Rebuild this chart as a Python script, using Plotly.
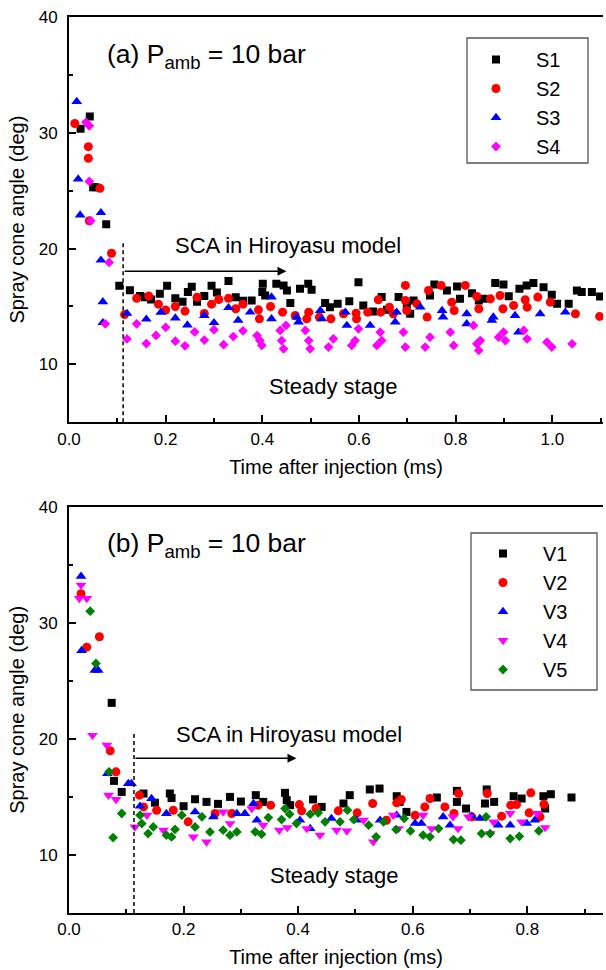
import plotly.graph_objects as go

# ---------------- Panel (a) data ----------------
s1_x = [0.024, 0.043, 0.050, 0.055, 0.077, 0.104, 0.126, 0.147, 0.157, 0.170, 0.188, 0.203, 0.220, 0.235,
        0.246, 0.254, 0.265, 0.280, 0.295, 0.306, 0.330, 0.345, 0.360, 0.378, 0.400, 0.401, 0.406, 0.429,
        0.444, 0.451, 0.458, 0.478, 0.495, 0.502, 0.530, 0.540, 0.556, 0.580, 0.599, 0.609, 0.629, 0.647,
        0.658, 0.682, 0.699, 0.706, 0.713, 0.747, 0.756, 0.782, 0.803, 0.809, 0.834, 0.848, 0.858, 0.882,
        0.899, 0.910, 0.932, 0.947, 0.961, 0.982, 0.999, 1.010, 1.034, 1.051, 1.061, 1.082, 1.099]
s1_y = [30.35, 31.4, 25.3, 25.3, 22.1, 16.8, 16.4, 15.9, 15.8, 15.6, 16.1, 16.8, 15.7, 15.4,
        16.25, 16.7, 15.4, 15.9, 16.8, 16.2, 17.2, 15.8, 15.5, 15.52, 16.24, 16.96, 15.95, 16.96,
        16.82, 16.38, 15.29, 16.53, 16.96, 16.44, 15.29, 14.94, 15.23, 15.46, 17.10, 15.09, 14.57, 15.81,
        14.71, 15.81, 15.09, 14.37, 15.52, 15.95, 16.90, 16.38, 16.73, 15.66, 16.15, 15.52, 15.66, 17.02,
        16.90, 15.89, 16.53, 16.82, 17.02, 16.67, 16.01, 15.23, 15.23, 16.38, 16.24, 16.24, 15.86]

s2_x = [0.012, 0.040, 0.040, 0.042, 0.064, 0.088, 0.115, 0.140, 0.165, 0.185, 0.200, 0.220, 0.240, 0.265,
        0.280, 0.295, 0.310, 0.330, 0.345, 0.360, 0.392, 0.394, 0.417, 0.442, 0.468, 0.492, 0.496, 0.518,
        0.542, 0.568, 0.594, 0.595, 0.618, 0.640, 0.645, 0.663, 0.671, 0.696, 0.696, 0.699, 0.720, 0.741,
        0.744, 0.770, 0.792, 0.797, 0.820, 0.844, 0.848, 0.872, 0.892, 0.898, 0.920, 0.944, 0.948, 0.970,
        0.996, 1.048, 1.098]
s2_y = [30.8, 28.8, 27.8, 22.4, 25.2, 19.6, 14.3, 15.7, 15.9, 15.2, 14.7, 15.0, 14.6, 15.8,
        14.4, 15.2, 15.6, 15.7, 14.8, 15.2, 14.71, 13.93, 15.00, 14.51, 14.22, 13.93, 14.51, 14.08,
        13.93, 14.37, 14.42, 13.93, 14.51, 15.58, 14.51, 14.94, 14.37, 16.82, 15.52, 14.65, 15.23, 14.08,
        16.38, 16.82, 15.37, 14.65, 16.82, 15.86, 14.80, 15.66, 15.95, 14.80, 15.09, 15.58, 14.94, 15.81,
        15.37, 14.37, 14.14]

s3_x = [0.016, 0.019, 0.023, 0.066, 0.066, 0.070, 0.070, 0.120, 0.160, 0.190, 0.220, 0.245, 0.280, 0.300,
        0.330, 0.350, 0.375, 0.419, 0.419, 0.471, 0.475, 0.520, 0.523, 0.572, 0.575, 0.623, 0.675, 0.678,
        0.727, 0.772, 0.774, 0.823, 0.823, 0.875, 0.878, 0.923, 0.930, 0.975, 1.027]
s3_y = [32.7, 26.0, 22.9, 23.1, 19.0, 15.4, 13.6, 14.4, 13.9, 14.5, 14.0, 13.4, 14.2, 13.6,
        14.9, 13.8, 14.51, 15.81, 13.93, 14.08, 13.65, 14.65, 13.93, 14.51, 13.36, 13.36, 13.65, 14.51,
        14.94, 14.65, 14.08, 14.37, 13.50, 13.79, 14.08, 14.22, 12.78, 14.37, 14.51]

s4_x = [0.035, 0.042, 0.042, 0.045, 0.075, 0.083, 0.120, 0.140, 0.160, 0.180, 0.200, 0.220, 0.240, 0.260,
        0.280, 0.300, 0.320, 0.340, 0.360, 0.389, 0.395, 0.399, 0.437, 0.440, 0.444, 0.449, 0.489, 0.496,
        0.499, 0.537, 0.547, 0.585, 0.592, 0.599, 0.637, 0.644, 0.647, 0.692, 0.696, 0.737, 0.747, 0.789,
        0.796, 0.837, 0.844, 0.848, 0.851, 0.889, 0.899, 0.903, 0.941, 0.948, 0.989, 0.999, 1.041]
s4_y = [30.9, 30.6, 25.8, 22.4, 13.5, 18.8, 12.2, 13.5, 11.8, 12.5, 13.2, 12.0, 11.6, 12.8,
        12.1, 13.0, 11.7, 12.4, 12.9, 12.49, 12.06, 11.63, 12.93, 12.06, 11.34, 13.36, 12.93, 12.06,
        11.34, 11.49, 12.21, 11.63, 12.06, 13.07, 11.63, 12.78, 12.06, 12.78, 11.49, 11.49, 12.35, 12.78,
        11.63, 13.36, 11.77, 11.20, 12.06, 12.35, 12.78, 12.06, 12.93, 12.21, 11.92, 11.49, 11.77]

# ---------------- Panel (b) data ----------------
v1_x = [0.0745, 0.0785, 0.092, 0.130, 0.150, 0.176, 0.179, 0.200, 0.220, 0.240, 0.260, 0.281, 0.300,
        0.326, 0.339, 0.377, 0.380, 0.386, 0.426, 0.441, 0.479, 0.490, 0.525, 0.542, 0.572, 0.577, 0.589,
        0.642, 0.677, 0.677, 0.693, 0.729, 0.726, 0.742, 0.776, 0.790, 0.828, 0.841, 0.831, 0.877]
v1_y = [23.1, 16.38, 15.43, 15.29, 14.5, 15.29, 14.9, 14.2, 14.8, 14.57, 14.4, 15.0, 14.6,
        15.15, 14.57, 15.35, 14.72, 14.29, 14.78, 14.14, 14.43, 15.15, 15.64, 15.72, 15.06, 14.57, 13.71,
        14.95, 15.52, 14.57, 14.0, 15.64, 14.43, 14.57, 15.06, 14.86, 15.06, 15.23, 14.0, 14.95]

v2_x = [0.021, 0.031, 0.053, 0.072, 0.082, 0.123, 0.130, 0.153, 0.182, 0.208, 0.255, 0.284,
        0.330, 0.352, 0.402, 0.406, 0.431, 0.470, 0.503, 0.530, 0.554, 0.572, 0.580, 0.604, 0.621,
        0.630, 0.656, 0.672, 0.680, 0.703, 0.730, 0.755, 0.771, 0.781, 0.803, 0.806, 0.829, 0.822]
v2_y = [32.5, 27.9, 28.8, 18.97, 17.16, 15.15, 14.14, 13.85, 13.85, 12.85, 13.57, 13.57,
        14.29, 14.29, 14.34, 13.8, 14.0, 13.8, 13.63, 14.43, 12.99, 14.49, 14.78, 13.42, 14.14,
        14.86, 14.14, 13.57, 15.29, 13.28, 15.29, 13.34, 14.29, 14.34, 13.63, 15.35, 14.37, 13.28]

v3_x = [0.021, 0.022, 0.045, 0.051, 0.067, 0.1035, 0.109, 0.124, 0.144, 0.170, 0.220, 0.252, 0.293,
        0.307, 0.322, 0.328, 0.403, 0.421, 0.458, 0.502, 0.543, 0.572, 0.604, 0.615, 0.653, 0.665,
        0.703, 0.717, 0.749, 0.770, 0.799, 0.813]
v3_y = [34.0, 27.6, 25.9, 25.9, 17.0, 16.15, 16.15, 14.2, 14.86, 13.57, 13.71, 13.28, 13.57,
        13.57, 14.43, 12.99, 12.99, 12.27, 13.14, 12.99, 12.99, 13.42, 12.71, 12.71, 13.28, 12.56,
        13.34, 13.14, 12.56, 12.56, 12.71, 12.99]

v4_x = [0.018, 0.021, 0.031, 0.041, 0.066, 0.069, 0.082, 0.115, 0.136, 0.165, 0.217, 0.240, 0.269,
        0.281, 0.319, 0.339, 0.367, 0.381, 0.415, 0.438, 0.467, 0.485, 0.514, 0.531, 0.566, 0.575,
        0.618, 0.633, 0.670, 0.679, 0.697, 0.735, 0.741, 0.770, 0.790, 0.817, 0.831]
v4_y = [32.1, 33.25, 32.1, 20.3, 19.45, 15.15, 14.78, 12.41, 13.42, 12.13, 11.55, 11.12, 13.71,
        12.7, 14.0, 12.56, 12.13, 12.36, 12.27, 11.70, 12.13, 12.07, 12.99, 11.13, 13.42, 12.27,
        13.42, 12.27, 13.28, 12.27, 13.28, 11.84, 12.85, 13.57, 12.85, 13.57, 12.36]

v5_x = [0.037, 0.047, 0.070, 0.077, 0.092, 0.124, 0.127, 0.138, 0.147, 0.170, 0.179, 0.185, 0.197,
        0.220, 0.232, 0.246, 0.269, 0.281, 0.293, 0.325, 0.336, 0.348, 0.371, 0.377, 0.385, 0.397,
        0.421, 0.435, 0.447, 0.473, 0.486, 0.497, 0.523, 0.536, 0.549, 0.571, 0.585, 0.596, 0.618,
        0.630, 0.645, 0.671, 0.684, 0.720, 0.728, 0.735, 0.770, 0.786, 0.820]
v5_y = [31.0, 26.5, 17.16, 11.5, 13.57, 13.42, 12.7, 11.84, 12.41, 11.7, 11.55, 12.2, 13.42,
        12.41, 13.28, 11.98, 12.13, 11.7, 11.98, 11.99, 11.79, 13.22, 13.05, 14.0, 13.51, 12.71,
        13.51, 13.63, 12.85, 12.85, 13.86, 13.05, 12.56, 11.56, 12.85, 12.19, 13.14, 12.07, 11.7,
        11.56, 12.27, 11.33, 11.27, 11.84, 13.28, 11.84, 11.41, 11.61, 12.07]

FONT = "Liberation Sans, Arial, sans-serif"

fig = go.Figure()

def add(xs, ys, name, color, symbol, size, xa, ya, leg):
    fig.add_trace(go.Scatter(x=xs, y=ys, mode="markers", name=name, xaxis=xa, yaxis=ya, legend=leg,
                             marker=dict(color=color, symbol=symbol, size=size, line=dict(width=0))))

add(s1_x, s1_y, "S1", "#000000", "square", 8, "x", "y", "legend")
add(s2_x, s2_y, "S2", "#FF0000", "circle", 9, "x", "y", "legend")
add(s3_x, s3_y, "S3", "#0000FF", "triangle-up", 9.5, "x", "y", "legend")
add(s4_x, s4_y, "S4", "#FF00FF", "diamond", 7.5, "x", "y", "legend")

add(v1_x, v1_y, "V1", "#000000", "square", 8, "x2", "y2", "legend2")
add(v2_x, v2_y, "V2", "#FF0000", "circle", 9, "x2", "y2", "legend2")
add(v3_x, v3_y, "V3", "#0000FF", "triangle-up", 9.5, "x2", "y2", "legend2")
add(v4_x, v4_y, "V4", "#FF00FF", "triangle-down", 9.5, "x2", "y2", "legend2")
add(v5_x, v5_y, "V5", "#008000", "diamond", 7.5, "x2", "y2", "legend2")

axis_common = dict(showline=True, linecolor="black", linewidth=2, ticks="inside", ticklen=7,
                   tickwidth=1.5, tickcolor="black", showgrid=False, zeroline=False,
                   tickfont=dict(size=17, color="black", family=FONT))

x_common = dict(axis_common, dtick=0.2, tick0=0, tickformat=".1f", mirror=True,
                minor=dict(ticks="inside", ticklen=4, tickwidth=1.5, tickcolor="black", dtick=0.1, tick0=0),
                title=dict(text="Time after injection (ms)", font=dict(size=20, color="black", family=FONT),
                           standoff=12))
y_common = dict(axis_common, range=[5, 40], dtick=10, tick0=0, ticklabelstandoff=6,
                minor=dict(ticks="inside", ticklen=4, tickwidth=1.5, tickcolor="black", dtick=5, tick0=0),
                title=dict(text="Spray cone angle (deg)", font=dict(size=20, color="black", family=FONT),
                           standoff=9))

top_dom = [0.5477, 1.0]
bot_dom = [0.0, 0.4535]

# pixel helpers for paper-referenced boxes (plot area: x 69..603, y 17..913)
def px_x(p):
    return (p - 69) / 534

def px_y(p):
    return 1 - (p - 17) / 896

legend_common = dict(font=dict(size=20, color="black", family=FONT), bgcolor="rgba(0,0,0,0)",
                     borderwidth=0, xanchor="left", yanchor="top", itemwidth=70, tracegroupgap=0)

fig.update_layout(
    width=606, height=970,
    margin=dict(l=69, r=3, t=17, b=57),
    paper_bgcolor="white", plot_bgcolor="white",
    font=dict(family=FONT, color="black"),
    xaxis=dict(x_common, range=[0, 1.105], domain=[0, 1], anchor="y"),
    yaxis=dict(y_common, domain=top_dom, anchor="x"),
    xaxis2=dict(x_common, range=[0, 0.932], domain=[0, 1], anchor="y2"),
    yaxis2=dict(y_common, domain=bot_dom, anchor="x2"),
    legend=dict(legend_common, x=px_x(456), y=px_y(40)),
    legend2=dict(legend_common, x=px_x(463), y=px_y(534)),
    showlegend=True,
)

# legend frames
fig.add_shape(type="rect", xref="paper", yref="paper", x0=px_x(467), x1=px_x(588), y0=px_y(163), y1=px_y(38),
              line=dict(color="#555555", width=1.3), fillcolor="white", layer="above")
fig.add_shape(type="rect", xref="paper", yref="paper", x0=px_x(471), x1=px_x(597), y0=px_y(690), y1=px_y(533),
              line=dict(color="#555555", width=1.3), fillcolor="white", layer="above")

# Dashed vertical markers (start of steady stage) and arrows
fig.add_shape(type="line", xref="x", yref="y", x0=0.112, x1=0.112, y0=5, y1=20.5,
              line=dict(color="black", width=1.5, dash="4px,3px"))
fig.add_shape(type="line", xref="x2", yref="y2", x0=0.1134, x1=0.1134, y0=5, y1=20.6,
              line=dict(color="black", width=1.5, dash="4px,3px"))

fig.add_annotation(xref="x", yref="y", axref="x", ayref="y", x=0.45, y=18.05, ax=0.112, ay=18.05,
                   text="", showarrow=True, arrowhead=2, arrowsize=1.2, arrowwidth=1.5, arrowcolor="black")
fig.add_annotation(xref="x2", yref="y2", axref="x2", ayref="y2", x=0.397, y=18.33, ax=0.1134, ay=18.33,
                   text="", showarrow=True, arrowhead=2, arrowsize=1.2, arrowwidth=1.5, arrowcolor="black")

txt_font = dict(size=22, color="black", family=FONT)
fig.add_annotation(xref="x", yref="y", x=0.2153, y=20.3, xanchor="left", yanchor="middle",
                   text="SCA in Hiroyasu model", showarrow=False, font=txt_font)
fig.add_annotation(xref="x2", yref="y2", x=0.1832, y=20.38, xanchor="left", yanchor="middle",
                   text="SCA in Hiroyasu model", showarrow=False, font=txt_font)
fig.add_annotation(xref="x", yref="y", x=0.546, y=8.1, xanchor="center", yanchor="middle",
                   text="Steady stage", showarrow=False, font=txt_font)
fig.add_annotation(xref="x2", yref="y2", x=0.462, y=8.2, xanchor="center", yanchor="middle",
                   text="Steady stage", showarrow=False, font=txt_font)

title_font = dict(size=26.5, color="black", family=FONT)
fig.add_annotation(xref="x", yref="y", x=0.0745, y=36.6, xanchor="left", yanchor="middle",
                   text="(a) P<sub>amb</sub> = 10 bar", showarrow=False, font=title_font)
fig.add_annotation(xref="x2", yref="y2", x=0.0628, y=36.7, xanchor="left", yanchor="middle",
                   text="(b) P<sub>amb</sub> = 10 bar", showarrow=False, font=title_font)

fig.write_html("out.html", config={"displayModeBar": False},
               post_script="document.body.style.margin='0';")
